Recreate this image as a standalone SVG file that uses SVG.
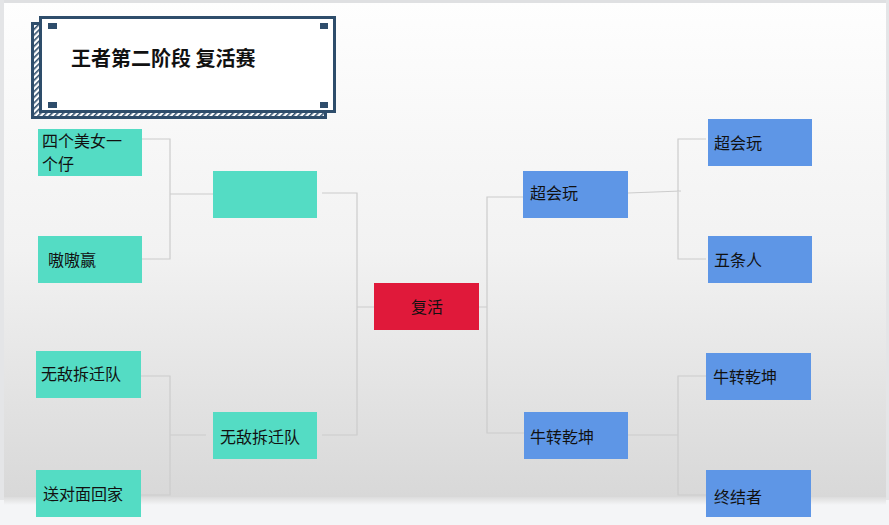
<svg xmlns="http://www.w3.org/2000/svg" width="889" height="525" viewBox="0 0 889 525">
<defs>
<linearGradient id="bg" x1="0" y1="0" x2="0" y2="1">
<stop offset="0" stop-color="#fefefe"/>
<stop offset="0.5" stop-color="#f2f2f2"/>
<stop offset="1" stop-color="#d8d8d8"/>
</linearGradient>
<linearGradient id="sh" x1="0" y1="0" x2="0" y2="1">
<stop offset="0" stop-color="#dcdcdc"/>
<stop offset="1" stop-color="#f4f5f7"/>
</linearGradient>
<pattern id="hatch" width="4" height="4" patternUnits="userSpaceOnUse" patternTransform="rotate(45)">
<rect width="4" height="4" fill="#ffffff"/>
<rect width="1.6" height="4" fill="#2e4d6b"/>
</pattern>
<style>
.teal{fill:#54dcc4}
.blue{fill:#5e96e6}
.red{fill:#e0193a}
.t{font-family:"Noto Sans CJK SC","Noto Sans",sans-serif;font-size:16px;fill:#111111}
.c{fill:none;stroke:#cccccc;stroke-width:1.2}
.corner{fill:#2e4d6b}
</style>
</defs>
<rect x="0" y="0" width="889" height="525" fill="#f4f5f7"/>
<rect x="0" y="0" width="889" height="4" fill="#dfe0e2"/>
<rect x="0" y="0" width="4" height="500" fill="#e4e5e7"/>
<rect x="886" y="0" width="3" height="500" fill="#e4e5e7"/>
<rect x="4" y="497" width="882" height="8" fill="url(#sh)"/>
<rect x="4" y="3" width="882" height="494" fill="url(#bg)"/>

<g id="title">
<rect x="32.5" y="23.5" width="293" height="94" fill="url(#hatch)" stroke="#2e4d6b" stroke-width="3"/>
<rect x="40.5" y="17.5" width="294" height="94" fill="#ffffff" stroke="#2e4d6b" stroke-width="3"/>
<rect class="corner" x="48" y="23" width="9" height="6"/>
<rect class="corner" x="320" y="23" width="8" height="6"/>
<rect class="corner" x="48" y="102" width="9" height="6"/>
<rect class="corner" x="320" y="102" width="8" height="6"/>
<text x="71" y="66" font-family="'Noto Sans CJK SC','Noto Sans',sans-serif" font-size="20" font-weight="bold" fill="#111111">王者第二阶段 复活赛</text>
</g>

<g id="connectors">
<path class="c" d="M142 139H170V259H142M170 194H213"/>
<path class="c" d="M141 376H170V495H141M170 435H206"/>
<path class="c" d="M322 193H357V435H322M357 307H374"/>
<path class="c" d="M479 307H487M523 197H487V433H524"/>
<path class="c" d="M628 193L681 191M706 139H678V259H706"/>
<path class="c" d="M628 435H678M706 376H678V495H706"/>
</g>

<g id="n1"><rect class="teal" x="38" y="129" width="104" height="47"/><text class="t"><tspan x="42" y="147">四个美女一</tspan><tspan x="42" y="170">个仔</tspan></text></g>
<g id="n2"><rect class="teal" x="38" y="236" width="104" height="47"/><text class="t" x="48" y="266">嗷嗷赢</text></g>
<g id="n3"><rect class="teal" x="36" y="351" width="105" height="47"/><text class="t" x="41" y="380">无敌拆迁队</text></g>
<g id="n4"><rect class="teal" x="36" y="470" width="105" height="47"/><text class="t" x="43" y="500">送对面回家</text></g>
<g id="n5"><rect class="teal" x="213" y="171" width="104" height="47"/></g>
<g id="n6"><rect class="teal" x="213" y="412" width="104" height="47"/><text class="t" x="220" y="443">无敌拆迁队</text></g>
<g id="n7"><rect class="red" x="374" y="283" width="105" height="47"/><text class="t" x="427" y="313" text-anchor="middle">复活</text></g>
<g id="n8"><rect class="blue" x="523" y="171" width="105" height="47"/><text class="t" x="530" y="199">超会玩</text></g>
<g id="n9"><rect class="blue" x="524" y="412" width="104" height="47"/><text class="t" x="530" y="443">牛转乾坤</text></g>
<g id="n10"><rect class="blue" x="708" y="119" width="104" height="47"/><text class="t" x="714" y="149">超会玩</text></g>
<g id="n11"><rect class="blue" x="708" y="236" width="104" height="47"/><text class="t" x="714" y="266">五条人</text></g>
<g id="n12"><rect class="blue" x="706" y="353" width="105" height="47"/><text class="t" x="713" y="383">牛转乾坤</text></g>
<g id="n13"><rect class="blue" x="706" y="470" width="105" height="47"/><text class="t" x="714" y="503">终结者</text></g>
</svg>
